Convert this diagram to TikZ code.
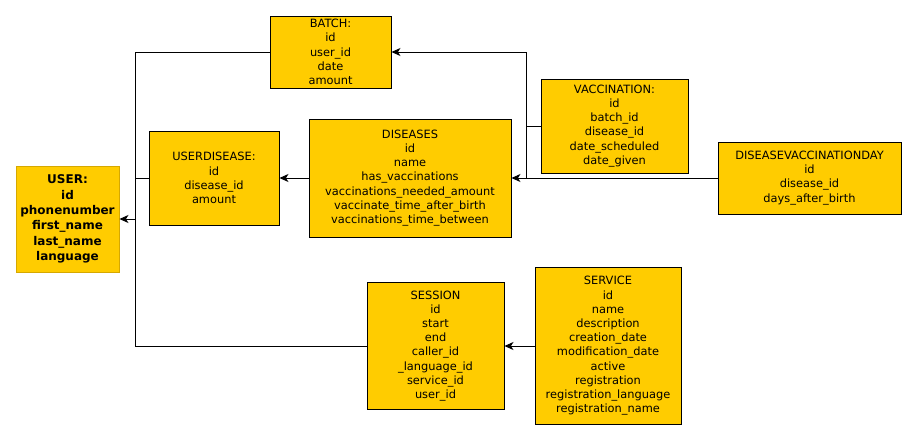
\documentclass[tikz,border=0pt]{standalone}
\usepackage{fontspec}
\setmainfont{DejaVu Sans}
\usetikzlibrary{arrows.meta}
\definecolor{gold}{RGB}{255,204,0}
\definecolor{goldedge}{RGB}{214,168,0}
\begin{document}
\begin{tikzpicture}[x=1pt,y=-1pt,
  tbl/.style={fill=gold,draw=black,line width=0.9pt,inner sep=0pt,align=center,
    font=\fontsize{11.4}{14.2}\selectfont},
  con/.style={line width=1pt},
  arr/.style={line width=1pt,-{Stealth[length=9pt,width=8pt,inset=2.5pt]}}]
\useasboundingbox (0,0) rectangle (915,440);
\path (67.5,219) node[tbl,draw=goldedge,minimum width=103,minimum height=106,
        font=\fontsize{12}{15.3}\selectfont\bfseries](usr){USER:\\id\\phonenumber\\first\_name\\last\_name\\language}
      (330.5,52) node[tbl,minimum width=121,minimum height=72](bat){BATCH:\\id\\user\_id\\date\\amount}
      (214,178) node[tbl,minimum width=130,minimum height=94](ud){USERDISEASE:\\id\\disease\_id\\amount}
      (410,178) node[tbl,minimum width=202,minimum height=118](dis){DISEASES\\id\\name\\has\_vaccinations\\vaccinations\_needed\_amount\\vaccinate\_time\_after\_birth\\vaccinations\_time\_between}
      (614.5,126) node[tbl,minimum width=147,minimum height=94](vac){VACCINATION:\\id\\batch\_id\\disease\_id\\date\_scheduled\\date\_given}
      (809.5,178) node[tbl,minimum width=183,minimum height=72](dvd){DISEASEVACCINATIONDAY\\id\\disease\_id\\days\_after\_birth}
      (435.5,346) node[tbl,minimum width=137,minimum height=127](ses){SESSION\\id\\start\\end\\caller\_id\\\_language\_id\\service\_id\\user\_id}
      (608,346) node[tbl,minimum width=146,minimum height=157](srv){SERVICE\\id\\name\\description\\creation\_date\\modification\_date\\active\\registration\\registration\_language\\registration\_name};
\coordinate (ju) at (135,219);
\coordinate (jb) at (526,178);
\draw[con] (bat.west) -| (ju);
\draw[con] (ses.west) -| (ju);
\draw[con] (ud.west) -- (ud.west -| ju);
\draw[arr] (ju) -- (usr.east);
\draw[arr] (jb) |- (bat.east);
\draw[con] (vac.west) -- (vac.west -| jb);
\draw[arr] (dvd.west) -- (dis.east);
\draw[arr] (dis.west) -- (ud.east);
\draw[arr] (srv.west) -- (ses.east);
\end{tikzpicture}
\end{document}
